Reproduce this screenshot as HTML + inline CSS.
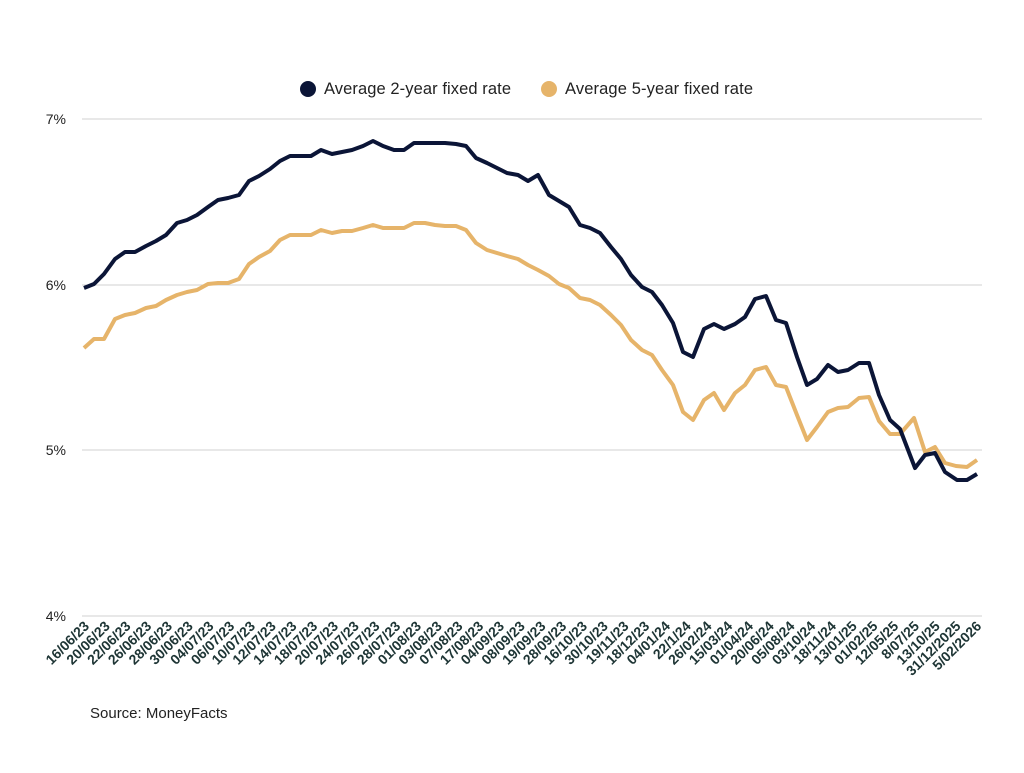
<!DOCTYPE html>
<html><head><meta charset="utf-8"><style>
body{margin:0;background:#fff;}
svg text{font-family:"Liberation Sans",sans-serif;}
</style></head><body>
<svg width="1024" height="768" xmlns="http://www.w3.org/2000/svg">
<rect width="1024" height="768" fill="#fff"/>
<g stroke="#d0d0d0" stroke-width="1">
<line x1="82" y1="119" x2="982" y2="119"/>
<line x1="82" y1="285" x2="982" y2="285"/>
<line x1="82" y1="450" x2="982" y2="450"/>
<line x1="82" y1="616" x2="982" y2="616"/>
</g>
<g font-size="14" fill="#222" text-anchor="end">
<text x="66" y="124">7%</text><text x="66" y="290">6%</text><text x="66" y="455">5%</text><text x="66" y="621">4%</text>
</g>
<circle cx="308" cy="89" r="8" fill="#0b1537"/>
<text x="324" y="94" font-size="16.5" fill="#222" textLength="187">Average 2-year fixed rate</text>
<circle cx="549" cy="89" r="8" fill="#e6b46a"/>
<text x="565" y="94" font-size="16.5" fill="#222" textLength="188">Average 5-year fixed rate</text>
<polyline fill="none" stroke="#e6b46a" stroke-width="4" stroke-linejoin="round" points="84,348 94,339 104,339 115,319 125,315 135,313 146,308 156,306 166,300 177,295 187,292 197,290 208,284 218,283 228,283 239,279 249,264 259,257 270,251 280,240 290,235 301,235 311,235 321,230 332,233 342,231 352,231 363,228 373,225 383,228 394,228 404,228 414,223 425,223 435,225 445,226 456,226 466,230 476,243 487,250 497,253 507,256 518,259 528,265 538,270 549,276 559,284 569,288 580,298 590,300 600,305 611,315 621,325 631,340 642,350 652,355 662,370 673,385 683,412 693,420 704,400 714,393 724,410 735,393 745,385 755,370 766,367 776,385 786,387 797,415 807,440 817,427 828,412 838,408 848,407 859,398 869,397 879,421 890,434 900,434 914,418 925,452 935,447 945,463 956,466 967,467 977,460"/>
<polyline fill="none" stroke="#0b1537" stroke-width="4" stroke-linejoin="round" points="84,288 94,284 104,274 115,259 125,252 135,252 146,246 156,241 166,235 177,223 187,220 197,215 208,207 218,200 228,198 239,195 249,181 259,176 270,169 280,161 290,156 301,156 311,156 321,150 332,154 342,152 352,150 363,146 373,141 383,146 394,150 404,150 414,143 425,143 435,143 445,143 456,144 466,146 476,158 487,163 497,168 507,173 518,175 528,181 538,175 549,195 559,201 569,207 580,225 590,228 600,233 611,247 621,259 631,275 642,287 652,292 662,305 673,323 683,352 693,357 704,329 714,324 724,329 735,324 745,317 755,299 766,296 776,320 786,323 797,357 807,385 817,379 828,365 838,372 848,370 859,363 869,363 879,395 890,420 900,429 915,468 925,455 935,453 945,472 957,480 967,480 977,474"/>
<g font-size="14" font-weight="bold" fill="#1e3535" text-anchor="end" id="xl"></g>
<text x="90" y="718" font-size="15" fill="#222">Source: MoneyFacts</text>
</svg>
<script>
var L="16/06/23,20/06/23,22/06/23,26/06/23,28/06/23,30/06/23,04/07/23,06/07/23,10/07/23,12/07/23,14/07/23,18/07/23,20/07/23,24/07/23,26/07/23,28/07/23,01/08/23,03/08/23,07/08/23,17/08/23,04/09/23,08/09/23,19/09/23,28/09/23,16/10/23,30/10/23,19/11/23,18/12/23,04/01/24,22/1/24,26/02/24,15/03/24,01/04/24,20/06/24,05/08/24,03/10/24,18/11/24,13/01/25,01/02/25,12/05/25,8/07/25,13/10/25,31/12/2025,5/02/2026".split(",");
var g=document.getElementById("xl"),ns="http://www.w3.org/2000/svg";
L.forEach(function(s,i){var x=90+i*20.75,y=627;var t=document.createElementNS(ns,"text");t.setAttribute("x",x);t.setAttribute("y",y);t.setAttribute("transform","rotate(-45 "+x+" "+y+")");t.textContent=s;g.appendChild(t);});
</script>
</body></html>
